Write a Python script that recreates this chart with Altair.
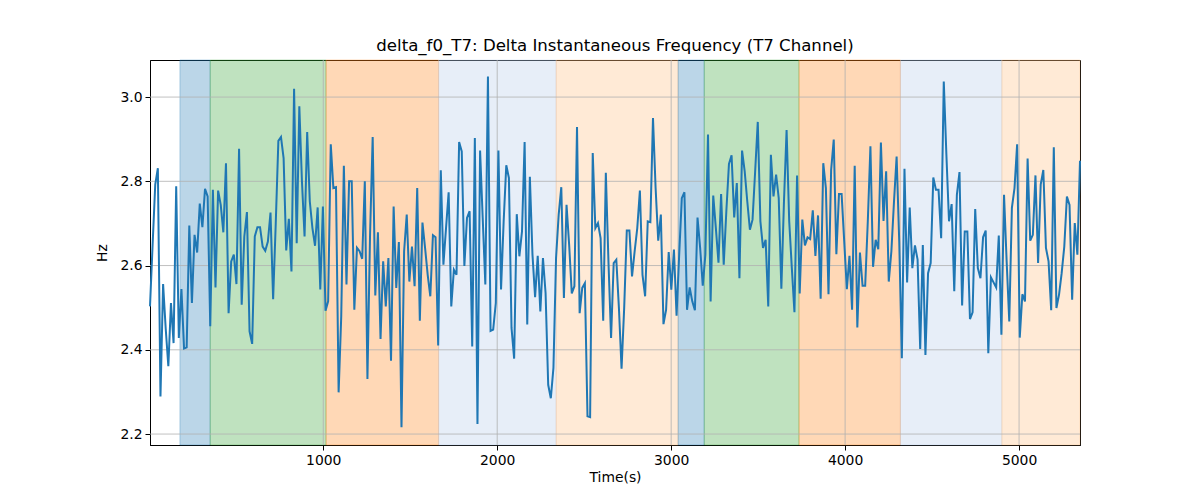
import altair as alt
import pandas as pd

title = "delta_f0_T7: Delta Instantaneous Frequency (T7 Channel)"

# delta instantaneous frequency (Hz), one sample roughly every 15 s
delta_f0 = [
    2.503, 2.65, 2.792, 2.831, 2.289, 2.556, 2.45, 2.361, 2.511, 2.416,
    2.788, 2.428, 2.544, 2.403, 2.406, 2.695, 2.511, 2.673, 2.631, 2.747,
    2.691, 2.782, 2.764, 2.456, 2.780, 2.548, 2.778, 2.744, 2.679, 2.843,
    2.487, 2.610, 2.626, 2.556, 2.877, 2.507, 2.669, 2.727, 2.444, 2.414,
    2.669, 2.691, 2.691, 2.645, 2.635, 2.657, 2.726, 2.520, 2.70, 2.896,
    2.905, 2.855, 2.636, 2.711, 2.586, 3.020, 2.653, 2.978, 2.80, 2.669,
    2.917, 2.752, 2.689, 2.647, 2.738, 2.543, 2.740, 2.493, 2.515, 2.888,
    2.784, 2.786, 2.299, 2.48, 2.837, 2.555, 2.800, 2.800, 2.495, 2.642,
    2.634, 2.616, 2.800, 2.331, 2.673, 2.905, 2.529, 2.679, 2.426, 2.610,
    2.503, 2.618, 2.374, 2.740, 2.547, 2.656, 2.216, 2.634, 2.721, 2.562,
    2.645, 2.551, 2.784, 2.469, 2.702, 2.642, 2.578, 2.527, 2.672, 2.667,
    2.410, 2.826, 2.602, 2.689, 2.774, 2.503, 2.590, 2.578, 2.893, 2.871,
    2.599, 2.713, 2.729, 2.408, 2.903, 2.224, 2.873, 2.713, 2.555, 3.049,
    2.445, 2.448, 2.511, 2.873, 2.543, 2.705, 2.838, 2.808, 2.452, 2.379,
    2.722, 2.622, 2.681, 2.893, 2.460, 2.811, 2.626, 2.525, 2.623, 2.491,
    2.618, 2.535, 2.317, 2.285, 2.357, 2.618, 2.721, 2.786, 2.523, 2.744,
    2.649, 2.534, 2.551, 2.929, 2.487, 2.547, 2.558, 2.242, 2.240, 2.867,
    2.689, 2.701, 2.665, 2.469, 2.820, 2.610, 2.428, 2.606, 2.614, 2.499,
    2.355, 2.499, 2.683, 2.683, 2.574, 2.634, 2.689, 2.778, 2.578, 2.527,
    2.705, 2.703, 2.950, 2.784, 2.659, 2.721, 2.461, 2.495, 2.632, 2.543,
    2.638, 2.481, 2.626, 2.760, 2.774, 2.495, 2.548, 2.515, 2.494, 2.714,
    2.642, 2.552, 2.626, 2.911, 2.515, 2.766, 2.689, 2.607, 2.770, 2.602,
    2.729, 2.841, 2.862, 2.714, 2.796, 2.570, 2.873, 2.824, 2.752, 2.685,
    2.709, 2.824, 2.941, 2.705, 2.642, 2.661, 2.503, 2.863, 2.764, 2.816,
    2.760, 2.545, 2.752, 2.922, 2.705, 2.594, 2.489, 2.814, 2.534, 2.709,
    2.648, 2.667, 2.663, 2.731, 2.623, 2.719, 2.521, 2.843, 2.784, 2.532,
    2.827, 2.899, 2.627, 2.770, 2.770, 2.657, 2.544, 2.623, 2.495, 2.837,
    2.453, 2.631, 2.552, 2.552, 2.705, 2.883, 2.597, 2.661, 2.639, 2.892,
    2.706, 2.824, 2.562, 2.634, 2.752, 2.859, 2.657, 2.380, 2.830, 2.560,
    2.738, 2.594, 2.648, 2.614, 2.402, 2.649, 2.388, 2.582, 2.606, 2.809,
    2.780, 2.780, 2.665, 3.037, 2.863, 2.705, 2.746, 2.539, 2.768, 2.822,
    2.505, 2.681, 2.681, 2.473, 2.489, 2.734, 2.594, 2.570, 2.667, 2.683,
    2.392, 2.572, 2.560, 2.548, 2.671, 2.436, 2.768, 2.610, 2.467, 2.737,
    2.784, 2.888, 2.429, 2.532, 2.515, 2.854, 2.659, 2.673, 2.814, 2.606,
    2.792, 2.827, 2.642, 2.610, 2.494, 2.881, 2.499, 2.531, 2.582, 2.645,
    2.764, 2.744, 2.519, 2.701, 2.626, 2.849,
]
time_s = [4 + 15.06 * k for k in range(len(delta_f0))]

# shaded segments (seconds)
span_start = [176, 350, 1016, 1663, 2339, 3040, 3190, 3735, 4318, 4901]
span_end = [350, 1016, 1663, 2339, 3040, 3190, 3735, 4318, 4901, time_s[-1]]
span_color = ["#1f77b4", "#2ca02c", "#ff7f0e", "#aec7e8", "#ffbb78",
              "#1f77b4", "#2ca02c", "#ff7f0e", "#aec7e8", "#ffbb78"]

x_ticks = [1000, 2000, 3000, 4000, 5000]
y_ticks = [2.2, 2.4, 2.6, 2.8, 3.0]

df = pd.DataFrame({"t": time_s, "hz": delta_f0})
spans = pd.DataFrame({"start": span_start, "end": span_end, "color": span_color})

x_scale = alt.Scale(domain=[time_s[0], time_s[-1]], nice=False, zero=False)
y_scale = alt.Scale(domain=[2.174, 3.088], nice=False, zero=False)
x_axis = alt.Axis(values=x_ticks, format="d", titlePadding=4)
y_axis = alt.Axis(values=y_ticks, format=".1f", titlePadding=10)

span_layer = alt.Chart(spans).mark_rect(fillOpacity=0.3, strokeOpacity=0.3, strokeWidth=1).encode(
    x=alt.X("start:Q", scale=x_scale, axis=x_axis, title="Time(s)"),
    x2="end:Q",
    fill=alt.Color("color:N", scale=None),
    stroke=alt.Color("color:N", scale=None),
)

vgrid = alt.Chart(pd.DataFrame({"t": x_ticks})).mark_rule(color="#b0b0b0", strokeWidth=0.8).encode(
    x=alt.X("t:Q", scale=x_scale, axis=x_axis, title="Time(s)")
)
hgrid = alt.Chart(pd.DataFrame({"hz": y_ticks})).mark_rule(color="#b0b0b0", strokeWidth=0.8).encode(
    y=alt.Y("hz:Q", scale=y_scale, axis=y_axis, title="Hz")
)

line = alt.Chart(df).mark_line(color="#1f77b4", strokeWidth=2).encode(
    x=alt.X("t:Q", scale=x_scale, axis=x_axis, title="Time(s)"),
    y=alt.Y("hz:Q", scale=y_scale, axis=y_axis, title="Hz"),
)

chart = alt.layer(span_layer, vgrid, hgrid, line).properties(
    width=930,
    height=385,
    autosize="none",
    padding={"left": 142, "top": 52, "right": 112, "bottom": 47},
    title=alt.TitleParams(title, fontSize=16.6, fontWeight="normal", font="DejaVu Sans",
                          color="black", offset=5),
).configure_view(
    stroke="black", strokeWidth=1
).configure_axis(
    grid=False,
    labelFont="DejaVu Sans", labelFontSize=13.9, labelColor="black",
    titleFont="DejaVu Sans", titleFontSize=13.9, titleFontWeight="normal", titleColor="black",
    domainColor="black", tickColor="black", tickSize=5, labelPadding=3,
)

chart.save("out.html", embed_options={"renderer": "svg", "actions": False})
